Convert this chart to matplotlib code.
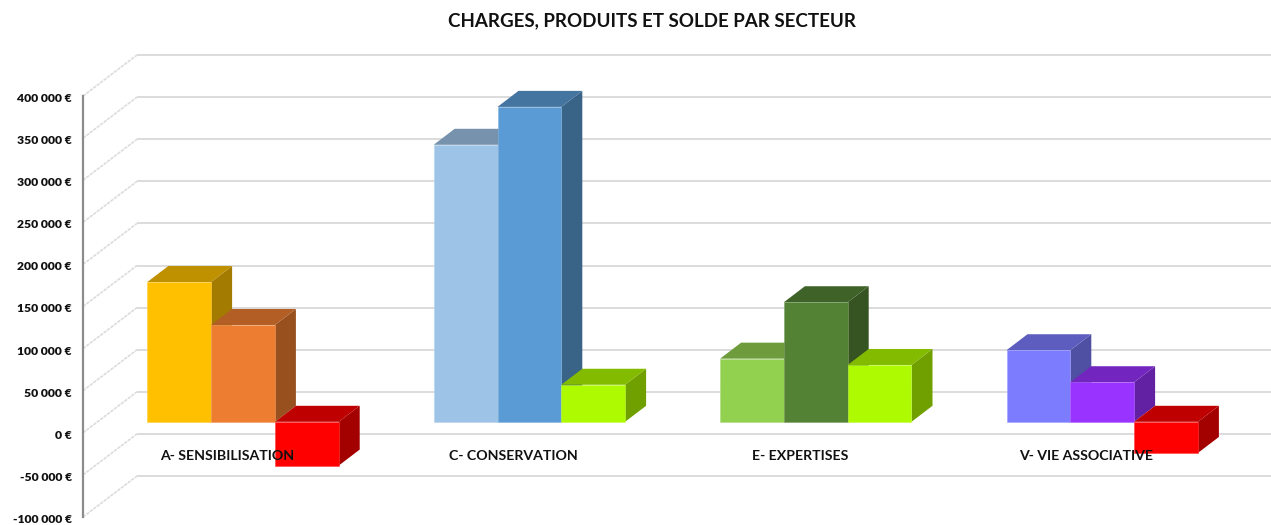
import matplotlib
matplotlib.use('Agg')
import matplotlib.pyplot as plt
from matplotlib.colors import to_rgb
from matplotlib.patches import Polygon
from matplotlib.transforms import ScaledTranslation

plt.rcParams['font.family'] = ['Lato', 'DejaVu Sans']

secteurs = ['A- SENSIBILISATION', 'C- CONSERVATION', 'E- EXPERTISES', 'V- VIE ASSOCIATIVE']
charges = [166000, 329000, 75000, 85000]
produits = [115000, 374000, 142000, 47000]
soldes = [-52000, 44000, 67500, -37000]
couleurs = [
    ['#FFC000', '#ED7D31', '#FF0000'],
    ['#9DC3E6', '#5B9BD5', '#AEFA00'],
    ['#92D050', '#548235', '#AEFA00'],
    ['#7C7CFF', '#9933FF', '#FF0000'],
]
yticks = [-100000, -50000, 0, 50000, 100000, 150000, 200000, 250000, 300000, 350000, 400000]

W, H = 1271, 525
AX_LEFT, AX_TOP, AX_BOTTOM = 83, 96, 517
GROUP_PX = 286.4
PX_Y = 500000 / (AX_BOTTOM - AX_TOP)  # euros par pixel


def dx(px):
    return px / GROUP_PX


def dy(px):
    return px * PX_Y


def darker(color, factor):
    return tuple(c * factor for c in to_rgb(color))


def lighter(color, factor):
    return tuple(c + (1 - c) * factor for c in to_rgb(color))


fig = plt.figure(figsize=(W / 100, H / 100), dpi=100, facecolor='white')
ax = fig.add_axes([AX_LEFT / W, 1 - AX_BOTTOM / H, (W - AX_LEFT) / W, (AX_BOTTOM - AX_TOP) / H])
ax.set_xlim(-(243 - AX_LEFT) / GROUP_PX, (W - 243) / GROUP_PX)
ax.set_ylim(-100000, 400000)

# Grille : mur du fond et paroi gauche
x0 = ax.get_xlim()[0]
x1 = ax.get_xlim()[1]
for v in yticks:
    yb = v + dy(41)
    ax.plot([x0 + dx(54), x1], [yb, yb], color='#d9d9d9', lw=1.3, clip_on=False, zorder=1,
            solid_capstyle='butt')
    ax.plot([x0, x0 + dx(54)], [v, yb], color='#dcdcdc', lw=1.2, clip_on=False, zorder=1,
            dashes=(2, 0.6))

# Barres en fausse 3D, de gauche a droite
bar_w = dx(63.8)
base = dy(11)
depth_x = dx(21)
depth_y = dy(16)
for i in range(len(secteurs)):
    values = [charges[i], produits[i], soldes[i]]
    for j, v in enumerate(values):
        left = i + (j - 1.5) * bar_w
        right = left + bar_w
        col = couleurs[i][j]
        y_low = base + min(v, 0)
        y_high = base + max(v, 0)
        z = 3 + i * 3 + j
        ax.add_patch(Polygon([(right, y_low), (right + depth_x, y_low + depth_y),
                              (right + depth_x, y_high + depth_y), (right, y_high)],
                             closed=True, fc=darker(col, 0.64), lw=0, clip_on=False, zorder=z))
        ax.add_patch(Polygon([(left, y_high), (left + depth_x, y_high + depth_y),
                              (right + depth_x, y_high + depth_y), (right, y_high)],
                             closed=True, fc=darker(col, 0.75), lw=0, clip_on=False, zorder=z))
        ax.bar(left, v, width=bar_w, bottom=base, align='edge', color=col,
               edgecolor=lighter(col, 0.25), lw=0.4, clip_on=False, zorder=z + 0.5)

for i, name in enumerate(secteurs):
    ax.text(i - dx(16), -dy(23), name, ha='center', va='center', fontsize=10.2,
            fontweight='bold', color='#111111', zorder=30)

# Axe vertical
ax.set_xticks([])
ax.set_yticks(yticks)
ax.set_yticklabels([f'{v:,}'.replace(',', ' ') + ' €' for v in yticks], fontsize=8.7,
                   fontweight='heavy', color='#111111')
ax.tick_params(axis='y', length=0, pad=8)
shift = ScaledTranslation(0, -1.5 / 100, fig.dpi_scale_trans)
for lab in ax.get_yticklabels():
    lab.set_transform(lab.get_transform() + shift)
for side in ['top', 'right', 'bottom']:
    ax.spines[side].set_visible(False)
ax.spines['left'].set_color('#8c8c8c')
ax.spines['left'].set_linewidth(1.6)
ax.patch.set_alpha(0)

fig.text(652 / W, 1 - 21 / H, 'CHARGES, PRODUITS ET SOLDE PAR SECTEUR', ha='center', va='center',
         fontsize=13.5, fontweight='bold', color='#111111')

fig.savefig('out.png', dpi=100)
